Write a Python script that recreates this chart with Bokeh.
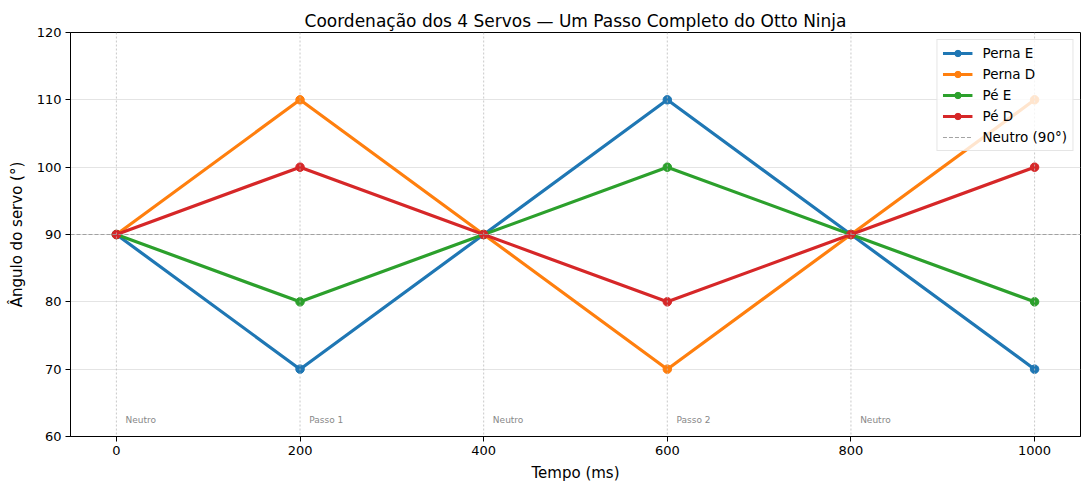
from bokeh.plotting import figure
from bokeh.models import FixedTicker, Span, Legend, LegendItem, Label
from bokeh.embed import file_html
from bokeh.resources import INLINE

# Step timeline (ms) and servo angles (degrees)
tempo = [0, 200, 400, 600, 800, 1000]
perna_e = [90, 70, 90, 110, 90, 70]
perna_d = [90, 110, 90, 70, 90, 110]
pe_e = [90, 80, 90, 100, 90, 80]
pe_d = [90, 100, 90, 80, 90, 100]
neutro = 90
fases = ["Neutro", "Passo 1", "Neutro", "Passo 2", "Neutro"]

x_ticks = [0, 200, 400, 600, 800, 1000]
y_ticks = [60, 70, 80, 90, 100, 110, 120]

FONT = "DejaVu Sans"

p = figure(width=1089, height=490, output_backend="svg", toolbar_location=None,
           x_range=(-50, 1050), y_range=(60, 120),
           min_border_left=70, min_border_right=9, min_border_top=32, min_border_bottom=54)

p.title.text = "Coordenação dos 4 Servos — Um Passo Completo do Otto Ninja"
p.title.align = "center"
p.title.text_font = FONT
p.title.text_font_size = "17px"
p.title.text_font_style = "normal"
p.title.text_color = "black"
p.title.offset = 0
p.title.standoff = 4

p.outline_line_color = "black"
p.outline_line_width = 1
p.background_fill_color = "white"
p.border_fill_color = "white"

for ax in (p.xaxis[0], p.yaxis[0]):
    ax.axis_line_color = "black"
    ax.major_tick_line_color = "black"
    ax.major_tick_out = 5
    ax.major_tick_in = 0
    ax.minor_tick_line_color = None
    ax.major_label_text_font = FONT
    ax.major_label_text_font_size = "13px"
    ax.major_label_text_color = "black"
    ax.axis_label_text_font = FONT
    ax.axis_label_text_font_size = "15px"
    ax.axis_label_text_font_style = "normal"
    ax.axis_label_text_color = "black"

p.xaxis.ticker = FixedTicker(ticks=x_ticks)
p.yaxis.ticker = FixedTicker(ticks=y_ticks)
p.xaxis.axis_label = "Tempo (ms)"
p.yaxis.axis_label = "Ângulo do servo (°)"
p.xaxis.major_label_standoff = 4
p.yaxis.major_label_standoff = 4
p.xaxis.axis_label_standoff = 6
p.yaxis.axis_label_standoff = 8

p.ygrid.grid_line_color = "#dddddd"
p.ygrid.grid_line_width = 0.8
p.xgrid.grid_line_color = None

# Dotted markers at each phase boundary
for t in tempo:
    p.add_layout(Span(location=t, dimension="height", line_color="#bbbbbb",
                      line_width=0.8, line_dash="2 2"))

# Phase names near the bottom
for t, nome in zip(tempo, fases):
    p.add_layout(Label(x=t + 10, y=62.5, text=nome, text_font=FONT,
                       text_font_size="9px", text_color="#888888",
                       text_baseline="middle", text_align="left"))

series = [
    ("Perna E", perna_e, "#1f77b4"),
    ("Perna D", perna_d, "#ff7f0e"),
    ("Pé E", pe_e, "#2ca02c"),
    ("Pé D", pe_d, "#d62728"),
]

items = []
for nome, vals, cor in series:
    ln = p.line(tempo, vals, line_color=cor, line_width=3.2)
    sc = p.scatter(tempo, vals, size=8.5, fill_color=cor, line_color=cor)
    items.append(LegendItem(label=nome, renderers=[ln, sc]))

neutro_ln = p.line([-50, 1050], [neutro, neutro], line_color="#999999",
                   line_width=1, line_dash="4 2", line_alpha=0.9)
items.append(LegendItem(label="Neutro (90°)", renderers=[neutro_ln]))

legend = Legend(items=items, location="top_right")
legend.label_text_font = FONT
legend.label_text_font_size = "13.5px"
legend.label_text_color = "black"
legend.border_line_color = "#cccccc"
legend.border_line_width = 1
legend.background_fill_alpha = 0.8
legend.glyph_width = 30
legend.glyph_height = 16
legend.label_height = 16
legend.spacing = 5
legend.padding = 5
legend.margin = 7
legend.label_standoff = 10
p.add_layout(legend)

open("out.html", "w").write(file_html(p, INLINE))
